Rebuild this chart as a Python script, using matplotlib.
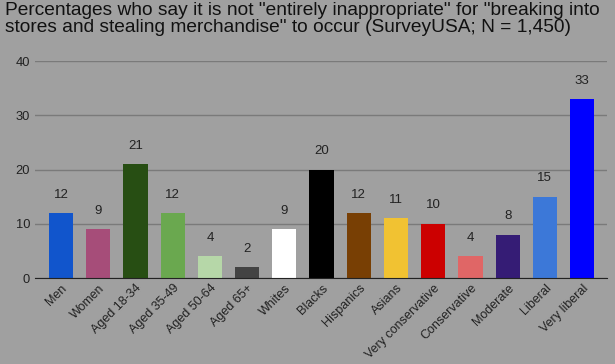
#!/usr/bin/env python3

import matplotlib
matplotlib.use('Agg')
import matplotlib.pyplot as plt

groups = ['Men', 'Women', 'Aged 18-34', 'Aged 35-49', 'Aged 50-64', 'Aged 65+',
          'Whites', 'Blacks', 'Hispanics', 'Asians', 'Very conservative',
          'Conservative', 'Moderate', 'Liberal', 'Very liberal']
values = [12, 9, 21, 12, 4, 2, 9, 20, 12, 11, 10, 4, 8, 15, 33]
colors = ['#1155cc', '#a64d79', '#274e13', '#6aa84f', '#b6d7a8', '#434343',
          '#ffffff', '#000000', '#783f04', '#f1c232', '#cc0000',
          '#e06666', '#351c75', '#3c78d8', '#0000ff']

bg = '#a0a0a0'
plt.rcParams['font.family'] = ['Liberation Sans', 'DejaVu Sans']

fig = plt.figure(figsize=(6.15, 3.64), dpi=100, facecolor=bg)
ax = fig.add_axes([0.057, 0.236, 0.93, 0.596], facecolor=bg)

x = range(len(groups))
ax.bar(x, values, width=0.65, color=colors, zorder=3)
for i, v in enumerate(values):
    ax.annotate(str(v), (i, v), xytext=(0, 9), textcoords='offset points',
                ha='center', va='bottom', fontsize=9.5, color='#222222')

ax.set_ylim(0, 40)
ax.set_xlim(-0.7, len(groups) - 0.33)
ax.set_yticks([0, 10, 20, 30, 40])
ax.yaxis.grid(True, color='#7a7a7a', linewidth=1, zorder=0)
ax.set_xticks(list(x))
ax.set_xticklabels(groups, rotation=45, ha='right', rotation_mode='anchor', fontsize=9)
ax.tick_params(axis='y', length=0, labelsize=9.3, colors='#222222')
ax.tick_params(axis='x', length=0, colors='#222222', pad=3)
for s in ['top', 'right', 'left']:
    ax.spines[s].set_visible(False)
ax.spines['bottom'].set_color('#222222')
ax.spines['bottom'].set_zorder(4)

fig.text(0.008, 0.995, 'Percentages who say it is not "entirely inappropriate" for "breaking into\n'
         'stores and stealing merchandise" to occur (SurveyUSA; N = 1,450)',
         ha='left', va='top', fontsize=13.8, color='#111111', linespacing=1.05)

fig.savefig('out.png', dpi=100, facecolor=bg)
